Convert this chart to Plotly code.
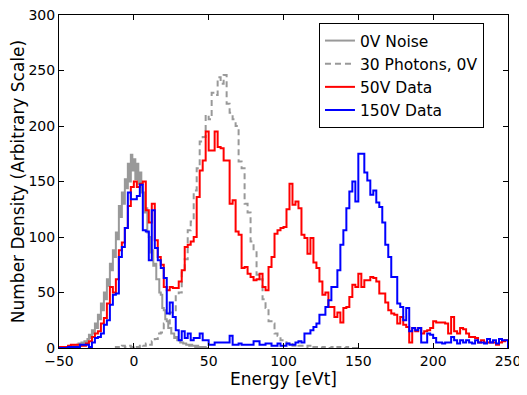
import numpy as np
import plotly.graph_objects as go

# histogram counts (left bin edge start, bin width)
noise_start, noise_width = -50, 1
noise_0v = [0, 1, 0, 1, 1, 0, 1, 2, 1, 2,
            2, 1, 3, 4, 2, 5, 4, 6, 5, 8,
            12, 9, 16, 13, 22, 18, 30, 26, 40, 34,
            50, 44, 62, 56, 76, 70, 88, 82, 104, 98,
            128, 118, 140, 130, 152, 144, 166, 150, 174, 160,
            170, 152, 166, 148, 158, 140, 140, 122, 126, 104,
            100, 86, 88, 74, 76, 62, 62, 50, 48, 36,
            34, 26, 24, 18, 18, 13, 13, 9, 10, 7,
            7, 5, 5, 4, 4, 3, 3, 2, 3, 2,
            2, 1, 2, 1, 1, 0, 1, 1, 0, 0]

photons_start, photons_width = -12, 2
photons_0v = [1, 0, 2, 1, 2, 1, 2, 1, 3, 2,
              4, 3, 6, 8, 13, 14, 22, 22, 32, 34,
              48, 50, 68, 80, 106, 114, 142, 162, 186, 190,
              210, 206, 230, 228, 244, 238, 246, 220, 212, 206,
              200, 168, 162, 130, 122, 96, 88, 66, 62, 44,
              36, 24, 22, 13, 11, 7, 7, 4, 5, 2,
              3, 2, 2, 1, 2, 0, 1, 1, 0, 1,
              1, 0, 1, 0, 1, 0, 0, 1, 0, 0, 0]

data_start, data_width = -50, 2
data_50v = [1, 1, 1, 2, 3, 3, 3, 2, 2, 4,
            6, 10, 13, 15, 22, 27, 40, 55, 50, 62,
            88, 95, 108, 128, 145, 150, 145, 148, 150, 124,
            113, 130, 97, 82, 75, 55, 52, 55, 54, 54,
            60, 70, 91, 93, 96, 100, 136, 160, 169, 195,
            178, 178, 195, 181, 180, 169, 169, 130, 133, 105,
            102, 72, 73, 67, 64, 61, 62, 67, 55, 52,
            73, 82, 103, 106, 108, 109, 125, 148, 129, 132,
            126, 102, 99, 85, 99, 77, 72, 60, 48, 50,
            37, 37, 28, 32, 23, 36, 37, 46, 57, 55,
            67, 55, 61, 61, 64, 63, 60, 49, 49, 41,
            34, 31, 30, 22, 28, 21, 19, 5, 18, 15,
            18, 13, 15, 16, 18, 24, 23, 23, 23, 22,
            13, 28, 15, 13, 18, 17, 13, 10, 10, 9,
            5, 7, 5, 5, 5, 5, 3, 5, 6, 7]

data_150v = [0, 0, 0, 1, 1, 1, 1, 3, 3, 3,
             1, 5, 9, 10, 13, 21, 25, 39, 48, 49,
             82, 91, 108, 140, 134, 134, 137, 147, 106, 105,
             79, 124, 90, 79, 72, 63, 31, 41, 28, 16,
             7, 15, 9, 13, 7, 9, 9, 13, 7, 7,
             3, 3, 5, 5, 5, 5, 5, 11, 3, 3,
             4, 3, 3, 3, 3, 6, 6, 3, 3, 4,
             4, 2, 2, 4, 2, 2, 4, 3, 3, 5,
             6, 5, 13, 13, 16, 19, 22, 30, 30, 37,
             43, 55, 55, 70, 93, 106, 126, 141, 150, 132,
             175, 175, 158, 151, 138, 142, 131, 127, 113, 93,
             82, 64, 64, 40, 37, 25, 36, 15, 18, 16,
             18, 5, 5, 13, 12, 9, 5, 5, 4, 5,
             5, 10, 7, 4, 7, 5, 7, 5, 4, 7,
             5, 5, 4, 8, 5, 7, 4, 8, 7, 7]


def step_xy(start, width, counts):
    edges = start + width * np.arange(len(counts) + 1)
    ys = [0] + list(counts) + [counts[-1], 0]
    xs = [edges[0]] + list(edges) + [edges[-1]]
    return xs, ys


series = [
    ("0V Noise", noise_start, noise_width, noise_0v, "#999999", "solid", 2),
    ("30 Photons, 0V", photons_start, photons_width, photons_0v, "#999999", "6px,4px", 2),
    ("50V Data", data_start, data_width, data_50v, "red", "solid", 2),
    ("150V Data", data_start, data_width, data_150v, "blue", "solid", 2),
]

fig = go.Figure()
for name, start, width, counts, color, dash, lw in series:
    xs, ys = step_xy(start, width, counts)
    fig.add_trace(go.Scatter(x=xs, y=ys, mode="lines", name=name,
                             line=dict(color=color, width=lw, dash=dash, shape="hv")))

axis_common = dict(showgrid=False, zeroline=False, showline=True, linecolor="black",
                   linewidth=1, mirror="ticks", ticks="inside", ticklen=5,
                   tickcolor="black", automargin=False, ticklabeloverflow="allow",
                   tickfont=dict(size=14, color="black"))

# the page body adds an 8px margin, so the figure is 8px smaller and margins shifted
fig.update_layout(
    width=519, height=387,
    margin=dict(l=51, r=19, t=7, b=47),
    plot_bgcolor="white", paper_bgcolor="white",
    font=dict(family="DejaVu Sans", size=14.5, color="black"),
    xaxis=dict(range=[-50, 250], dtick=50,
               title=dict(text="Energy [eVt]", standoff=4), **axis_common),
    yaxis=dict(range=[0, 300], dtick=50,
               title=dict(text="Number Density (Arbitrary Scale)", standoff=5), **axis_common),
    legend=dict(x=0.579, y=0.976, xanchor="left", yanchor="top",
                bordercolor="black", borderwidth=1, bgcolor="white",
                font=dict(size=15.5), tracegroupgap=0),
    showlegend=True,
)

fig.write_html("out.html")
